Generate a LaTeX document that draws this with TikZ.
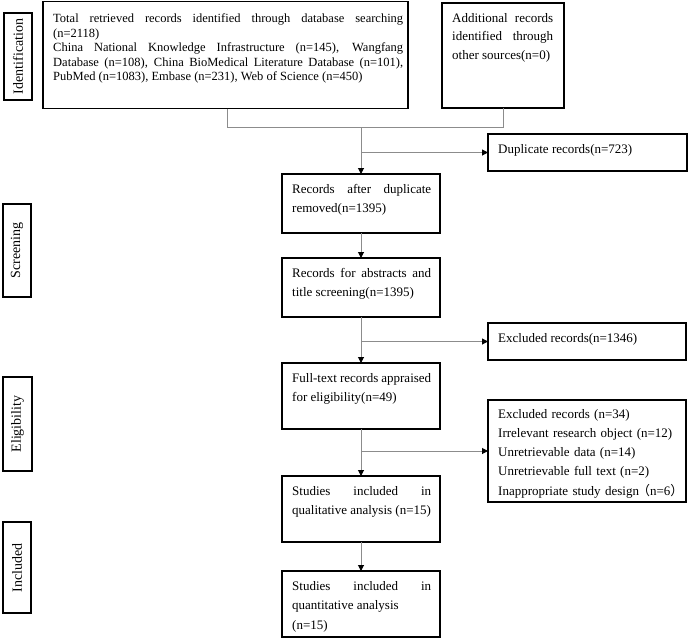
\documentclass[tikz,border=0pt]{standalone}
\usepackage{fontspec}
\setmainfont{Liberation Serif}
\newfontfamily\cjk{Noto Sans CJK SC}
\usetikzlibrary{arrows.meta}
\begin{document}
\begin{tikzpicture}[x=1pt,y=-1pt,
  frame/.style={draw=black, line width=1.3pt, inner sep=0pt, outer sep=0pt, anchor=north west},
  txt/.style={inner sep=0pt, anchor=base west, font=\fontsize{13}{19.5}\selectfont},
  side/.style={rotate=90, inner sep=0pt, font=\fontsize{14}{16}\selectfont},
  conn/.style={draw=black!45, line width=1pt},
  arr/.style={conn, -{Triangle[length=6pt,width=6pt,color=black]}}]
\useasboundingbox (0,0) rectangle (690,640);
\hyphenpenalty=10000
% stage labels
\node[frame, minimum width=28, minimum height=87] (idlab) at (4,13) {};
\node[side] (idt) at (idlab.center) {Identification};
\node[frame, minimum width=28, minimum height=93] (scrlab) at (3,204) {};
\node[side] (scrt) at (scrlab.center) {Screening};
\node[frame, minimum width=29, minimum height=94] (elilab) at (3,377) {};
\node[side] (elit) at (elilab.center) {Eligibility};
\node[frame, minimum width=28, minimum height=91] (inclab) at (3,522) {};
\node[side] (inct) at (inclab.center) {Included};
% boxes
\node[frame, minimum width=365, minimum height=107] (main) at (43,1.5) {};
\node[txt, text width=350, align=justify, font=\fontsize{12.5}{14.5}\selectfont] (maint) at (53,22.5)
 {Total retrieved records identified through database searching\linebreak (n=2118)\par
  China National Knowledge Infrastructure (n=145), Wangfang\linebreak Database (n=108), China BioMedical Literature Database (n=101),\linebreak PubMed (n=1083), Embase (n=231), Web of Science (n=450)};
\node[frame, minimum width=122, minimum height=105] (add) at (442,3) {};
\node[txt, text width=101, align=justify, font=\fontsize{13}{18.5}\selectfont] (addt) at (452,22)
 {Additional records\linebreak identified through\linebreak other sources(n=0)};
\node[frame, minimum width=199, minimum height=37] (dup) at (488,134) {};
\node[txt] (dupt) at (498,153) {Duplicate records(n=723)};
\node[frame, minimum width=158, minimum height=59] (after) at (282,174) {};
\node[txt, text width=139, align=justify] (aftert) at (292,193)
 {Records after duplicate\linebreak removed(n=1395)};
\node[frame, minimum width=158, minimum height=59] (abs) at (282,258) {};
\node[txt, text width=139, align=justify] (abst) at (292,277)
 {Records for abstracts and\linebreak title screening(n=1395)};
\node[frame, minimum width=198, minimum height=37] (exc1) at (488,323) {};
\node[txt] (exc1t) at (498,342) {Excluded records(n=1346)};
\node[frame, minimum width=158, minimum height=66] (full) at (282,363) {};
\node[txt, text width=139, align=justify] (fullt) at (292,382)
 {Full-text records appraised\linebreak for eligibility(n=49)};
\node[frame, minimum width=198, minimum height=102] (exc2) at (488,400) {};
\node[txt, text width=200, align=left, font=\fontsize{13}{19.3}\selectfont] (exc2t) at (498,418)
 {Excluded records (n=34)\newline Irrelevant research object (n=12)\newline Unretrievable data (n=14)\newline Unretrievable full text (n=2)\newline Inappropriate study design{\cjk\kern-2pt （}n=6{\cjk ）}};
\node[frame, minimum width=158, minimum height=66] (qual) at (282,476) {};
\node[txt, text width=139, align=justify] (qualt) at (292,495)
 {Studies included in\linebreak qualitative analysis (n=15)};
\node[frame, minimum width=158, minimum height=66] (quant) at (282,571) {};
\node[txt, text width=139, align=justify] (quantt) at (292,590)
 {Studies included in\linebreak quantitative analysis\newline (n=15)};
% connectors
\coordinate (j0) at (227,127);
\draw[conn] (main.south -| j0) -- (j0) -- (j0 -| add.south) -- (add.south);
\draw[arr] (j0 -| after.north) -- (after.north);
\draw[arr] (after.north |- dup.west) -- (dup.west);
\draw[arr] (after.south) -- (abs.north);
\draw[arr] (abs.south) -- (full.north);
\draw[arr] (abs.south |- exc1.west) -- (exc1.west);
\draw[arr] (full.south) -- (qual.north);
\draw[arr] (full.south |- exc2.west) -- (exc2.west);
\draw[arr] (qual.south) -- (quant.north);
\end{tikzpicture}
\end{document}
